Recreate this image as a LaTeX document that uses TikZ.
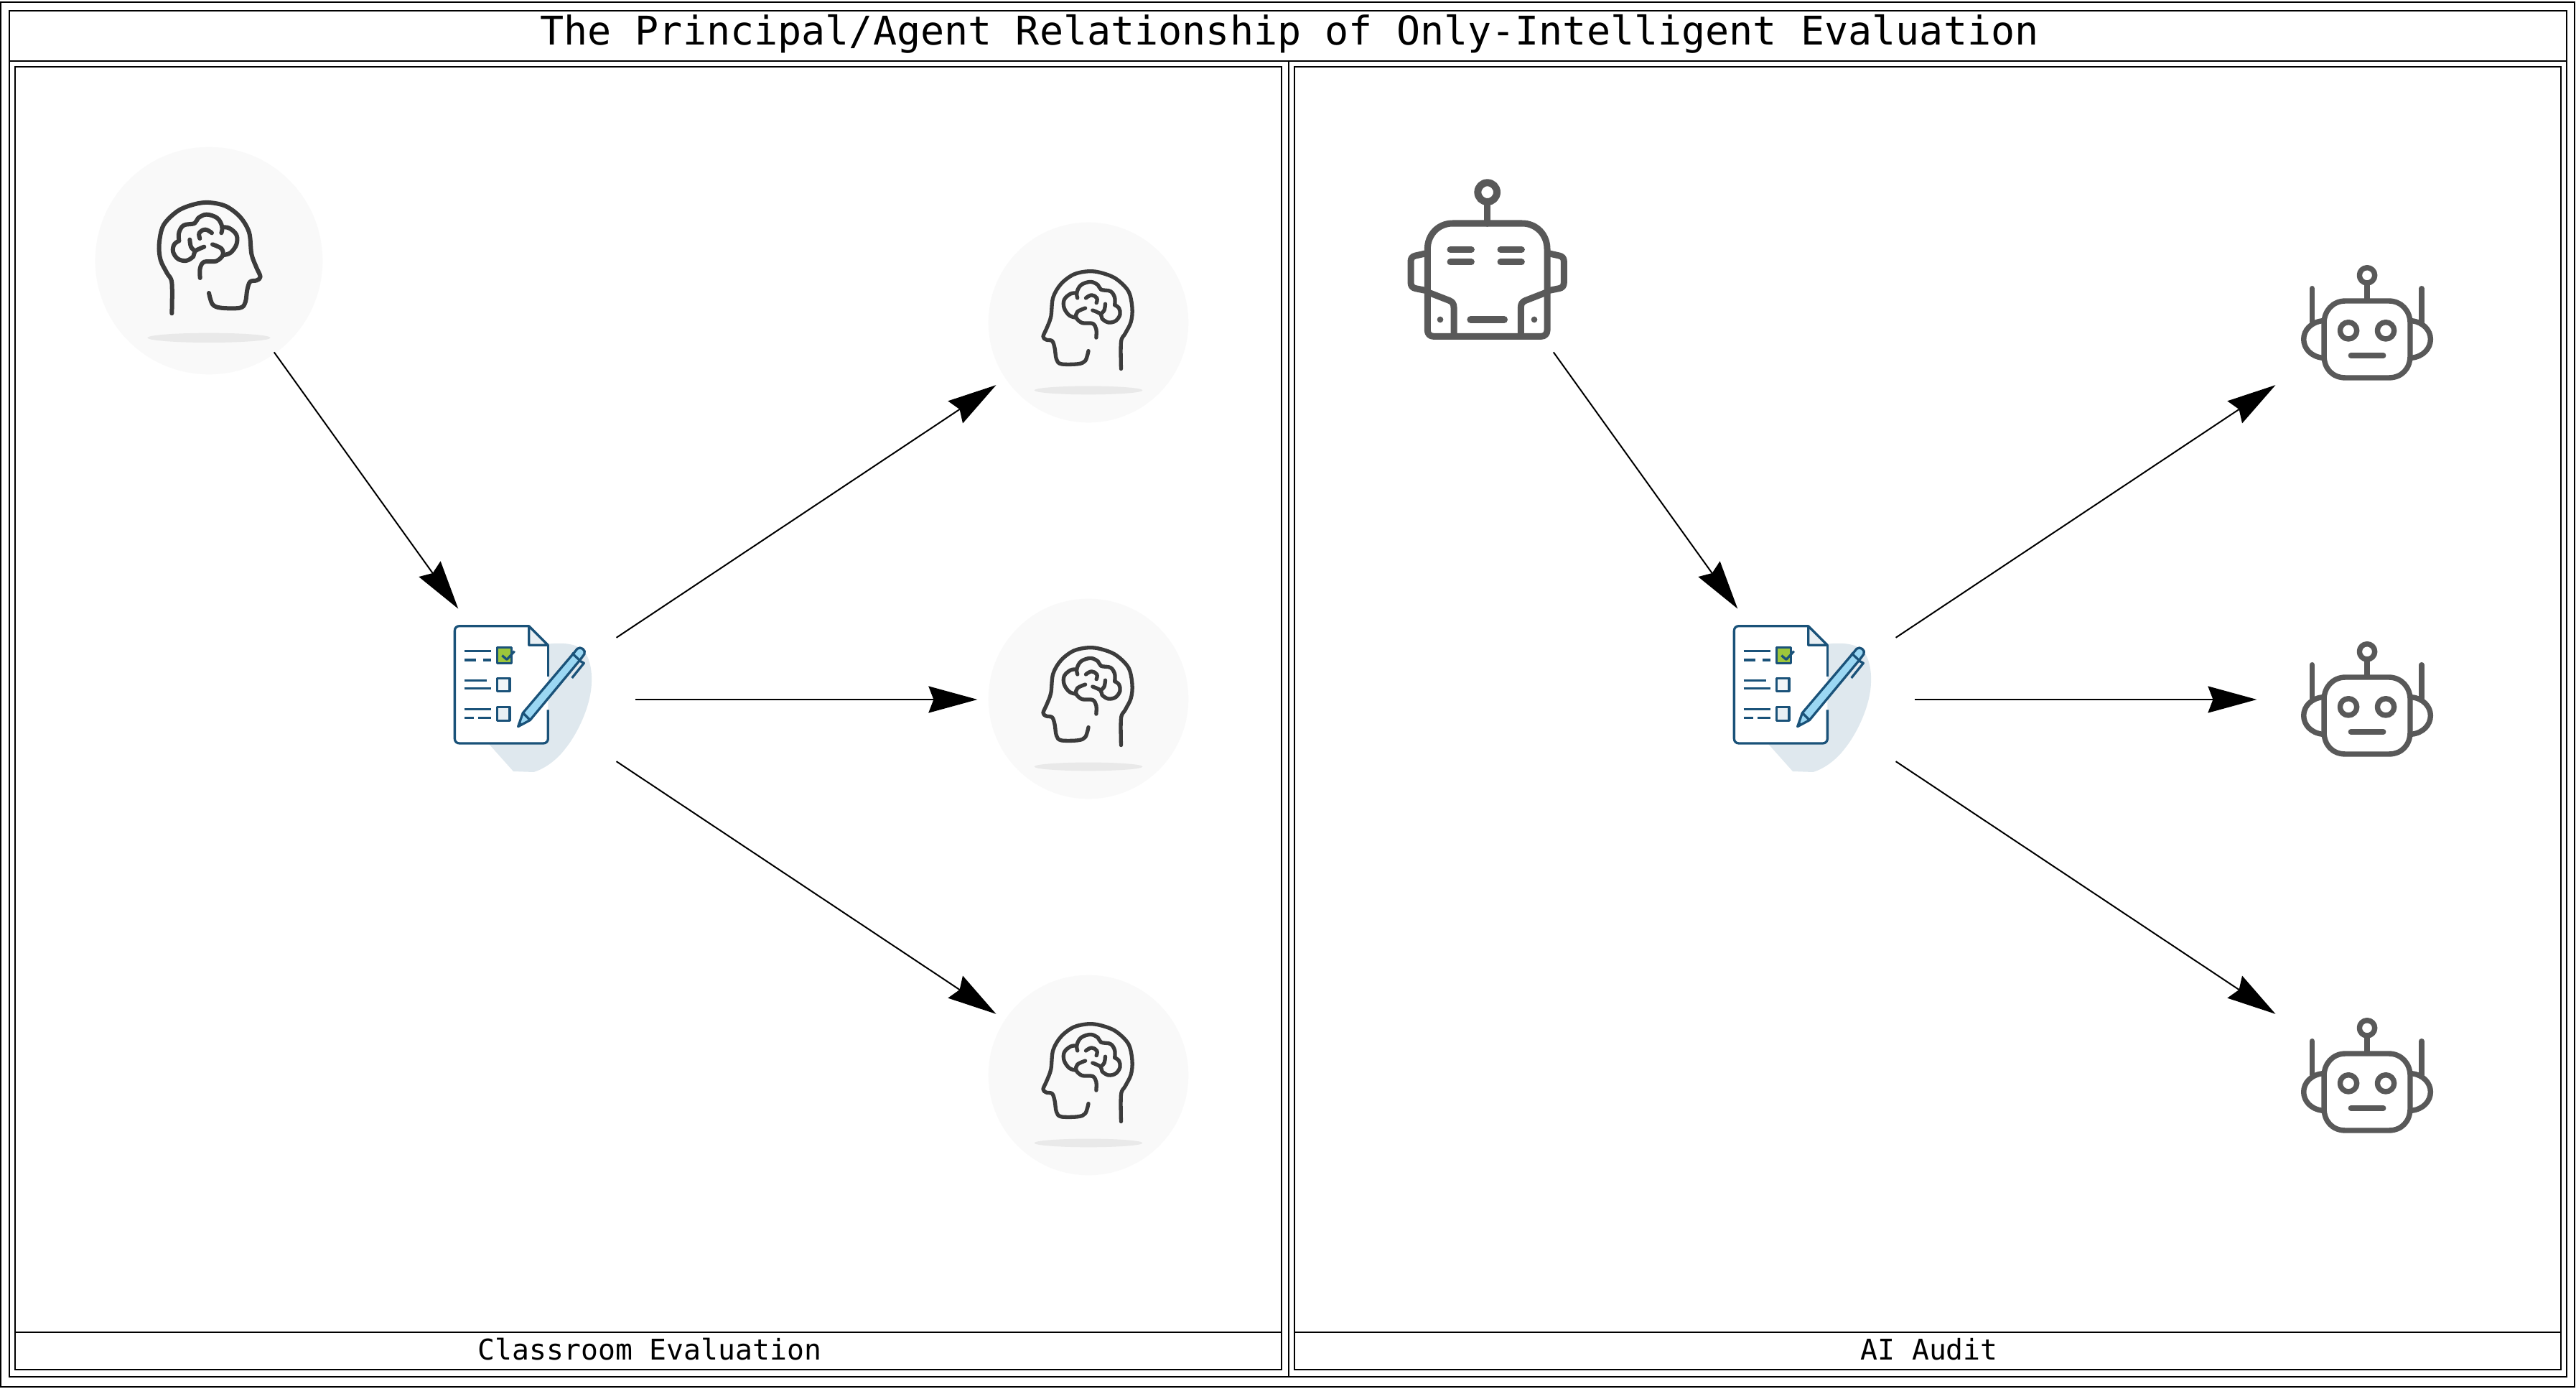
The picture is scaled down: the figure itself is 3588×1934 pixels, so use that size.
\documentclass[tikz,border=0pt]{standalone}
\usepackage{fontspec}
\setmonofont{DejaVu Sans Mono}
\usetikzlibrary{arrows.meta}
\definecolor{hd}{HTML}{3C3C3C}
\definecolor{disc}{HTML}{F9F9F9}
\definecolor{floorgray}{HTML}{E9E9E9}
\definecolor{rb}{HTML}{595959}
\definecolor{ink}{HTML}{1A5279}
\definecolor{blob}{HTML}{DFE8EE}
\definecolor{penblue}{HTML}{9BD7F3}
\definecolor{okgreen}{HTML}{9DC63B}
\tikzset{
  frameline/.style={draw=black,line width=.02cm},
  port/.style={circle,inner sep=0pt,outer sep=0pt,minimum size=3.11cm},
  conn/.style={draw=black,line width=.02cm,-{Stealth[length=.68cm,width=.37cm,inset=.07cm]}},
  titletext/.style={font=\ttfamily\fontsize{15.65pt}{18pt}\selectfont,inner sep=0pt},
  captext/.style={font=\ttfamily\fontsize{11.3pt}{14pt}\selectfont,inner sep=0pt},
  pics/brainicon/.style={code={
    \begin{scope}[shift={(-570,-548)}]
      \fill[disc] (570,548) circle[radius=475];
      \fill[floorgray] (570,870) ellipse[x radius=257,y radius=20];
      \begin{scope}[draw=hd,line width=#1,line cap=round,line join=round]
      \draw plot[smooth,tension=.55] coordinates {(415,768) (415,640) (395,600) (368,545) (362,480) (380,400) (440,340) (510,312) (570,305) (640,320) (700,365) (738,430) (748,520) (768,575) (785,615) (770,630) (742,636) (730,670) (722,722) (700,745) (620,745) (585,730) (570,683)};
      \draw plot[smooth,tension=.55] coordinates {(533,620) (533,580) (550,553) (600,550) (628,525) (622,497) (585,480)};
      \draw plot[smooth,tension=.6] coordinates {(628,525) (660,515) (685,480) (685,440) (655,412) (625,408)};
      \draw plot[smooth,tension=.6] coordinates {(622,432) (625,405) (605,370) (560,355) (525,370) (510,392) (465,400) (445,430) (445,465)};
      \draw plot[smooth,tension=.6] coordinates {(445,465) (425,480) (420,510) (440,540) (475,548) (505,530) (512,508) (550,490)};
      \draw plot[smooth,tension=.6] coordinates {(490,460) (495,490) (512,508)};
      \draw plot[smooth,tension=.7] coordinates {(582,432) (555,418) (530,432) (532,455)};
      \end{scope}
    \end{scope}
  }},
  pics/docicon/.style={code={
    \begin{scope}[shift={(-384,-399)},line join=round]
      \fill[blob] (245,590) -- (345,702) -- (430,705) .. controls (480,690) and (530,650) .. (560,610) .. controls (610,550) and (670,430) .. (672,330) .. controls (675,260) and (655,200) .. (620,185) .. controls (590,165) and (530,165) .. (490,170) -- cycle;
      \fill[white] (120,95) -- (410,95) -- (490,175) -- (490,565) .. controls (490,577) and (482,585) .. (470,585) -- (120,585) .. controls (108,585) and (100,577) .. (100,565) -- (100,115) .. controls (100,103) and (108,95) .. (120,95) -- cycle;
      \begin{scope}[draw=ink,line width=.033cm]
      \draw[fill=blob!70] (410,95) -- (490,175) -- (410,175) -- cycle;
      \draw (490,175) -- (490,305);
      \draw (490,445) -- (490,565) .. controls (490,577) and (482,585) .. (470,585) -- (120,585) .. controls (108,585) and (100,577) .. (100,565) -- (100,115) .. controls (100,103) and (108,95) .. (120,95) -- (410,95);
      \draw (140,200) -- (252,200) (140,237) -- (188,237) (218,237) -- (252,237);
      \draw (140,323) -- (235,323) (140,355) -- (252,355);
      \draw (140,443) -- (252,443) (140,478) -- (180,478) (198,478) -- (252,478);
      \draw[fill=okgreen] (278,185) rectangle (338,250);
      \draw (298,218) -- (318,235) -- (350,200);
      \draw[fill=blob!40] (278,313) rectangle (330,367);
      \draw[fill=blob!70] (278,433) rectangle (330,490);
      \draw (622,240) -- (640,250) -- (590,312);
      \draw[fill=penblue] (365,515) -- (385,458) -- (600,205) -- (612,190) .. controls (625,178) and (650,195) .. (642,212) -- (625,235) -- (415,488) -- cycle;
      \draw (385,458) -- (415,488) (590,208) -- (622,238);
      \fill[ink] (365,515) -- (372,495) -- (386,507) -- cycle;
      \end{scope}
    \end{scope}
  }},
  pics/bigbot/.style={code={
    \begin{scope}[shift={(-456,-399)},draw=rb,line cap=round,line join=round]
      \draw[line width=.1cm] (455,113) circle[radius=40];
      \draw[line width=.095cm] (455,155) -- (455,243);
      \begin{scope}[line width=.09cm]
      \draw (205,690) -- (205,350) .. controls (205,290) and (250,243) .. (310,243) -- (600,243) .. controls (660,243) and (705,290) .. (705,350) -- (705,690) .. controls (705,705) and (695,715) .. (680,715) -- (230,715) .. controls (215,715) and (205,705) .. (205,690) -- cycle;
      \draw (205,530) -- (295,565) .. controls (308,570) and (315,578) .. (315,595) -- (315,715);
      \draw (705,530) -- (615,565) .. controls (602,570) and (595,578) .. (595,595) -- (595,715);
      \draw (200,368) -- (155,378) .. controls (142,381) and (135,388) .. (135,402) -- (135,490) .. controls (135,505) and (142,512) .. (155,515) -- (205,525);
      \draw (710,368) -- (755,378) .. controls (768,381) and (775,388) .. (775,402) -- (775,490) .. controls (775,505) and (768,512) .. (755,515) -- (705,525);
      \draw (300,353) -- (388,353) (300,405) -- (388,405) (510,353) -- (598,353) (510,405) -- (598,405);
      \draw[line width=.1cm] (385,645) -- (525,645);
      \end{scope}
      \fill[rb] (258,645) circle[radius=13] (651,645) circle[radius=13];
    \end{scope}
  }},
  pics/smallbot/.style={code={
    \begin{scope}[shift={(-380,-297)},draw=rb,line width=.074cm,line cap=round,line join=round]
      \draw (380,100) circle[radius=32];
      \draw (380,135) -- (380,205);
      \draw (290,207) -- (470,207) .. controls (525,207) and (560,250) .. (560,300) -- (560,435) .. controls (560,490) and (525,528) .. (470,528) -- (290,528) .. controls (235,528) and (200,490) .. (200,435) -- (200,300) .. controls (200,250) and (235,207) .. (290,207) -- cycle;
      \draw (302,331) circle[radius=35] (458,331) circle[radius=35];
      \draw (312,435) -- (448,435);
      \draw (195,290) .. controls (145,295) and (115,330) .. (115,367) .. controls (115,405) and (145,440) .. (195,445);
      \draw (565,290) .. controls (615,295) and (645,330) .. (645,367) .. controls (645,405) and (615,440) .. (565,445);
      \draw (150,155) -- (150,295) (608,155) -- (608,295);
    \end{scope}
  }}
}
\begin{document}
\begin{tikzpicture}[x=.01cm,y=-.01cm]
\useasboundingbox (0,0) rectangle (3588,1934);
\fill[white] (0,0) rectangle (3588,1934);
% frames
\draw[frameline] (1,3) rectangle (3586,1931);
\draw[frameline] (13,15) rectangle (3575,1917);
\draw[frameline] (13,85) -- (3575,85);
\draw[frameline] (1795,85) -- (1795,1917);
\draw[frameline] (21,93) rectangle (1785,1907);
\draw[frameline] (1803,93) rectangle (3567,1907);
\draw[frameline] (21,1855) -- (1785,1855);
\draw[frameline] (1803,1855) -- (3567,1855);
\node[titletext] (title) at (1796,47) {The Principal/Agent Relationship of Only-Intelligent Evaluation};
\node[captext] (capL) at (905,1879) {Classroom Evaluation};
\node[captext] (capR) at (2687,1879) {AI Audit};
% icons, left panel
\pic[scale=.3333] at (291,363) {brainicon=.06cm};
\pic[xscale=-.2933,yscale=.2933] at (1516,449) {brainicon=.053cm};
\pic[xscale=-.2933,yscale=.2933] at (1516,973) {brainicon=.053cm};
\pic[xscale=-.2933,yscale=.2933] at (1516,1497) {brainicon=.053cm};
\pic[scale=.3333] at (728,973) {docicon};
% icons, right panel
\pic[scale=.3333] at (2072,363) {bigbot};
\pic[scale=.3333] at (3297,449) {smallbot};
\pic[scale=.3333] at (3297,973) {smallbot};
\pic[scale=.3333] at (3297,1497) {smallbot};
\pic[scale=.3333] at (2510,973) {docicon};
% invisible ports
\node[port] (pL) at (291,364) {};
\node[port] (dL) at (729,974) {};
\node[port] (aL) at (1517,450) {};
\node[port] (bL) at (1517,974) {};
\node[port] (cL) at (1517,1498) {};
\node[port] (pR) at (2073,364) {};
\node[port] (dR) at (2511,974) {};
\node[port] (aR) at (3299,450) {};
\node[port] (bR) at (3299,974) {};
\node[port] (cR) at (3299,1498) {};
% connectors
\draw[conn] (pL) -- (dL);
\draw[conn] (dL) -- (aL);
\draw[conn] (dL) -- (bL);
\draw[conn] (dL) -- (cL);
\draw[conn] (pR) -- (dR);
\draw[conn] (dR) -- (aR);
\draw[conn] (dR) -- (bR);
\draw[conn] (dR) -- (cR);
\end{tikzpicture}
\end{document}
